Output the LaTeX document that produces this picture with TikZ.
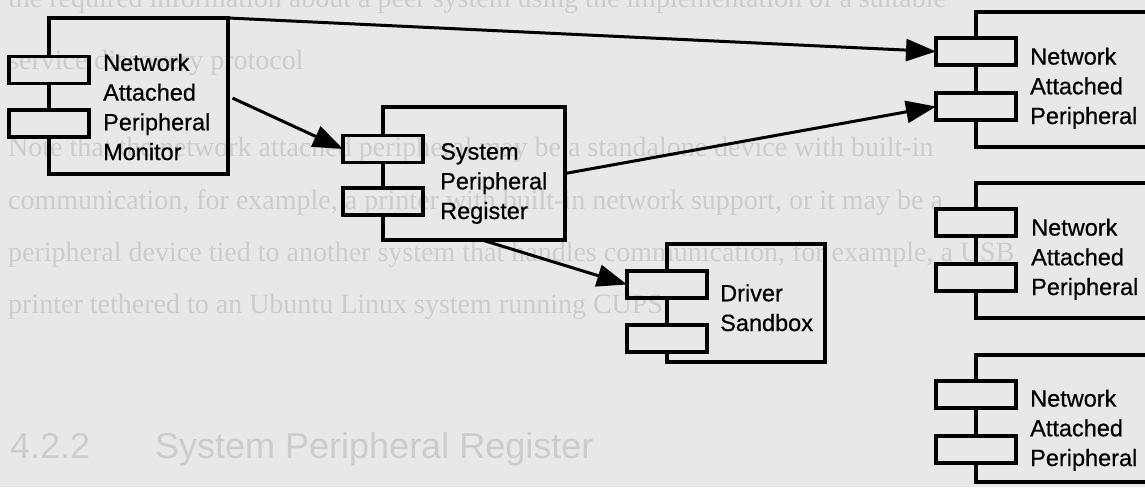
\documentclass[tikz,border=0pt]{standalone}
\usepackage{fontspec}
\setmainfont{Liberation Sans}
\newfontfamily\bgserif{Liberation Serif}
\newfontfamily\lblfont{Liberation Sans}[FakeBold=0.5]
\usetikzlibrary{arrows.meta}
\definecolor{bgc}{RGB}{232,232,232}
\definecolor{faint}{RGB}{204,204,204}
\begin{document}
\begin{tikzpicture}[x=1pt,y=-1pt,
  body/.style={draw=none,inner sep=0pt,outer sep=0pt},
  port/.style={draw,line width=3.5pt,inner sep=0pt,outer sep=0pt,minimum width=80pt,minimum height=27pt},
  edge/.style={line width=3.5pt,line join=miter},
  lbl/.style={inner sep=0pt,anchor=base west,align=left,font=\lblfont\fontsize{23.5pt}{29.7pt}\selectfont},
  conn/.style={line width=3pt,-{Triangle[length=30pt,width=22pt]}},
  bgtext/.style={inner sep=0pt,anchor=base west,text=faint,font=\bgserif\fontsize{28pt}{34pt}\selectfont},
  bghead/.style={inner sep=0pt,anchor=base west,text=faint,font=\fontsize{36pt}{42pt}\selectfont}]
\useasboundingbox (0,0) rectangle (1145,487);
\clip (0,0) rectangle (1145,487);
\fill[bgc] (0,0) rectangle (1145,487);

% faded page text behind the diagram
\node[bgtext] (t0) at (8,8) {the required information about a peer system using the implementation of a suitable};
\node[bgtext] (t1) at (8,70) {service discovery protocol};
\node[bgtext] (t2) at (8,156) {Note that the network attached peripheral may be a standalone device with built-in};
\node[bgtext] (t3) at (8,209) {communication, for example, a printer with built-in network support, or it may be a};
\node[bgtext] (t4) at (8,261) {peripheral device tied to another system that handles communication, for example, a USB};
\node[bgtext] (t5) at (8,313) {printer tethered to an Ubuntu Linux system running CUPS.};
\node[bghead] (h1) at (10,458) {4.2.2};
\node[bghead] (h2) at (155,458) {System Peripheral Register};

% Monitor
\node[body,minimum width=179pt,minimum height=156pt] (mon) at (138.5,96) {};
\node[port] (mon1) at (mon.west |- 0,70) {};
\node[port] (mon2) at (mon.west |- 0,123.5) {};
\draw[edge] (mon1.north) -- (mon.north west) -- (mon.north east) -- (mon.south east) -- (mon.south west) -- (mon2.south);
\draw[edge] (mon1.south) -- (mon2.north);
\node[lbl] (monl) at (103,160) {Network\\Attached\\Peripheral\\Monitor};

% System Peripheral Register
\node[body,minimum width=182pt,minimum height=133pt] (spr) at (474,173.5) {};
\node[port] (spr1) at (spr.west |- 0,149) {};
\node[port] (spr2) at (spr.west |- 0,201.5) {};
\draw[edge] (spr1.north) -- (spr.north west) -- (spr.north east) -- (spr.south east) -- (spr.south west) -- (spr2.south);
\draw[edge] (spr1.south) -- (spr2.north);
\node[lbl] (sprl) at (440,219) {System\\Peripheral\\Register};

% Driver Sandbox
\node[body,minimum width=158pt,minimum height=118pt] (drv) at (746,303) {};
\node[port] (drv1) at (drv.west |- 0,284.5) {};
\node[port] (drv2) at (drv.west |- 0,338.5) {};
\draw[edge] (drv1.north) -- (drv.north west) -- (drv.north east) -- (drv.south east) -- (drv.south west) -- (drv2.south);
\draw[edge] (drv1.south) -- (drv2.north);
\node[lbl] (drvl) at (720,331) {Driver\\Sandbox};

% Network Attached Peripheral 1
\node[body,minimum width=184pt,minimum height=135pt] (na) at (1068,79.5) {};
\node[port] (na1) at (na.west |- 0,51.5) {};
\node[port] (na2) at (na.west |- 0,106.5) {};
\draw[edge] (na1.north) -- (na.north west) -- (na.north east) -- (na.south east) -- (na.south west) -- (na2.south);
\draw[edge] (na1.south) -- (na2.north);
\node[lbl] (nal) at (1030,124) {Network\\Attached\\Peripheral};

% Network Attached Peripheral 2
\node[body,minimum width=184pt,minimum height=135pt] (nb) at (1068,250.5) {};
\node[port] (nb1) at (nb.west |- 0,222.5) {};
\node[port] (nb2) at (nb.west |- 0,277.5) {};
\draw[edge] (nb1.north) -- (nb.north west) -- (nb.north east) -- (nb.south east) -- (nb.south west) -- (nb2.south);
\draw[edge] (nb1.south) -- (nb2.north);
\node[lbl] (nbl) at (1031,295) {Network\\Attached\\Peripheral};

% Network Attached Peripheral 3
\node[body,minimum width=184pt,minimum height=127pt] (nc) at (1068,418.5) {};
\node[port] (nc1) at (nc.west |- 0,394.5) {};
\node[port] (nc2) at (nc.west |- 0,449.5) {};
\draw[edge] (nc1.north) -- (nc.north west) -- (nc.north east) -- (nc.south east) -- (nc.south west) -- (nc2.south);
\draw[edge] (nc1.south) -- (nc2.north);
\node[lbl] (ncl) at (1030,466) {Network\\Attached\\Peripheral};

% connectors
\draw[conn] (mon.north east) -- (na1.west);
\draw[conn,shorten <=5pt] (mon.east) -- (spr1.west);
\draw[conn] (spr.east) -- (na2.west);
\draw[conn] ([xshift=8pt]spr.south) -- (drv1.west);
\end{tikzpicture}
\end{document}
